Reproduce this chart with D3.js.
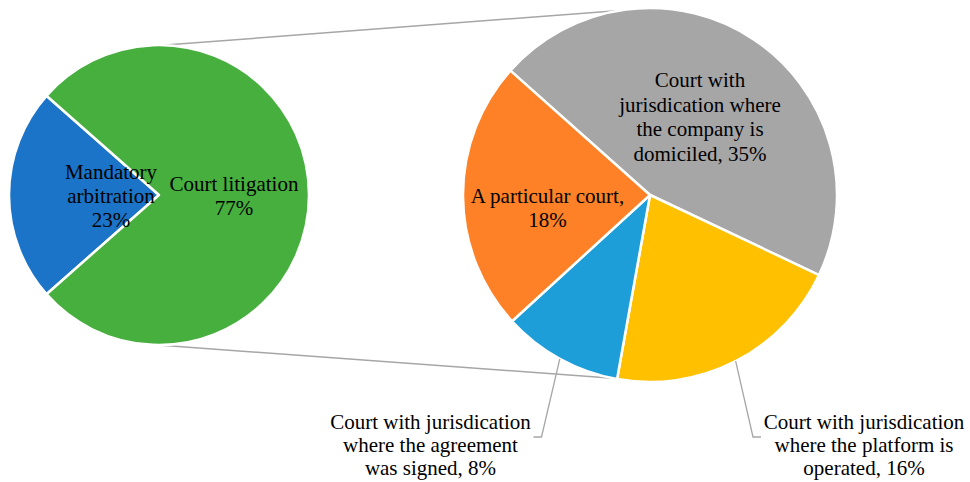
<!DOCTYPE html>
<html>
<head>
<meta charset="utf-8">
<script src="https://cdn.jsdelivr.net/npm/d3@7"></script>
<style>
  html, body { margin: 0; padding: 0; background: #fff; }
  text { font-family: "Liberation Serif", "Times New Roman", serif; font-size: 21px; fill: #000; }
</style>
</head>
<body>
<div id="chart"></div>
<script>
// main pie: dispute resolution method
const mainLabels = [["Mandatory", "arbitration", "23%"], ["Court litigation", "77%"]];
const mainValues = [23, 77];
const mainColors = ["#1b74c8", "#46af3e"];

// secondary pie: breakdown of court litigation
const subLabels = [
  ["Court with", "jurisdication where", "the company is", "domiciled, 35%"],
  ["Court with jurisdication", "where the platform is", "operated, 16%"],
  ["Court with jurisdication", "where the agreement", "was signed, 8%"],
  ["A particular court,", "18%"]
];
const subValues = [35, 16, 8, 18];
const subColors = ["#a6a6a6", "#ffc000", "#1e9ed9", "#fe8027"];

const width = 970, height = 482;
const deg = Math.PI / 180;

// layout
const main = { cx: 159, cy: 195, r: 150, start: -131.4 * deg };
const sub = { cx: 650, cy: 195, r: 187, start: -48.3 * deg };
// label centres relative to pie centre
const mainLabelPos = [[-48, 1], [75, 1]];
const subLabelPos = [[50, -78], [214, 250], [-219.5, 250], [-102.5, 13]];
const outside = [false, true, true, false];

const svg = d3.select("#chart").append("svg")
    .attr("width", width)
    .attr("height", height);

// connector lines between the two pies
const onCircle = (p, a) => [p.cx + p.r * Math.sin(a), p.cy - p.r * Math.cos(a)];
const connectors = [
  [onCircle(main, 2.3 * deg), onCircle(sub, -9.2 * deg)],
  [onCircle(main, 180.4 * deg), onCircle(sub, 191.4 * deg)]
];
svg.append("g")
    .attr("stroke", "#a6a6a6")
    .attr("stroke-width", 1.5)
  .selectAll("line")
  .data(connectors)
  .join("line")
    .attr("x1", d => d[0][0]).attr("y1", d => d[0][1])
    .attr("x2", d => d[1][0]).attr("y2", d => d[1][1]);

function drawPie(p, values, colors) {
  const arcs = d3.pie().sort(null)
      .startAngle(p.start)
      .endAngle(p.start + 2 * Math.PI)(values);
  const arc = d3.arc().innerRadius(0).outerRadius(p.r);
  svg.append("g")
      .attr("transform", `translate(${p.cx},${p.cy})`)
    .selectAll("path")
    .data(arcs)
    .join("path")
      .attr("d", arc)
      .attr("fill", (d, i) => colors[i])
      .attr("stroke", "#fff")
      .attr("stroke-width", 2.5)
      .attr("stroke-linejoin", "round");
  return arcs;
}

function drawLabel(x, y, lines, spacing) {
  const t = svg.append("text")
      .attr("text-anchor", "middle");
  lines.forEach((s, i) => {
    t.append("tspan")
        .attr("x", x)
        .attr("y", y + (i - (lines.length - 1) / 2) * spacing)
        .attr("dy", "0.33em")
        .text(s);
  });
}

drawPie(main, mainValues, mainColors);
mainLabels.forEach((lines, i) => {
  drawLabel(main.cx + mainLabelPos[i][0], main.cy + mainLabelPos[i][1], lines, 24);
});

const subArcs = drawPie(sub, subValues, subColors);

// leader lines for the outside labels
const leaders = svg.append("g")
    .attr("fill", "none")
    .attr("stroke", "#a6a6a6")
    .attr("stroke-width", 1.3);

subLabels.forEach((lines, i) => {
  const lx = sub.cx + subLabelPos[i][0];
  const ly = sub.cy + subLabelPos[i][1];
  if (outside[i]) {
    const a = (subArcs[i].startAngle + subArcs[i].endAngle) / 2;
    const start = onCircle(sub, a);
    const side = subLabelPos[i][0] < 0 ? 1 : -1;
    const textHalf = 103;
    const endX = lx + side * textHalf;
    const elbow = [endX + side * 8, ly - 8];
    leaders.append("polyline")
        .attr("points", [start, elbow, [endX, ly - 8]].map(q => q.join(",")).join(" "));
    drawLabel(lx, ly, lines, 23);
  } else {
    drawLabel(lx, ly, lines, 24.4);
  }
});
</script>
</body>
</html>
